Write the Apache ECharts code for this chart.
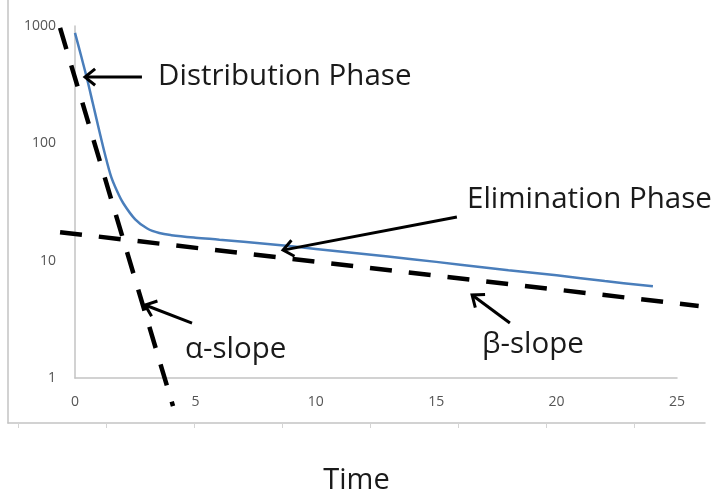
<!DOCTYPE html>
<html>
<head>
<meta charset="utf-8">
<script src="https://cdn.jsdelivr.net/npm/echarts@6/dist/echarts.min.js"></script>
<style>
  html, body { margin: 0; padding: 0; background: #fff; }
  #chart { width: 713px; height: 493px; }
</style>
</head>
<body>
<div id="chart"></div>
<script>
// Plasma concentration after an IV bolus (two-compartment model), log scale
const times = [0, 0.25, 0.5, 0.75, 1, 1.25, 1.5, 1.75, 2, 2.5, 3, 3.5, 4, 5, 6, 8, 10, 12, 14, 16, 18, 20, 22, 24];
const concentration = [875, 560, 355, 215, 130, 80, 52, 39, 31, 22.5, 18.8, 17.2, 16.5, 15.7, 15.1, 13.9, 12.6, 11.4, 10.3, 9.25, 8.3, 7.5, 6.7, 6.05];

// Back-extrapolated straight lines (in log space) of the two phases
const alphaSlope = [[-0.62, 962], [4.07, 0.577]];
const betaSlope = [[-0.62, 17.5], [25.9, 4.11]];

// Axis ticks
const xTicks = [0, 5, 10, 15, 20, 25];
const yTicks = [1, 10, 100, 1000];
const frameTicks = [0, 1, 2, 3, 4, 5, 6, 7];

// Callouts: text anchored at [time, concentration]
const calloutText = ['Distribution Phase', 'Elimination Phase', 'α-slope', 'β-slope'];
const calloutAt = [[3.45, 367], [16.28, 32.9], [4.57, 1.73], [16.9, 1.91]];
// Arrows: [tailTime, tailConc, tipTime, tipConc]
const arrows = [
  [2.78, 367, 0.415, 367],
  [15.86, 23.6, 8.64, 12.3],
  [4.86, 2.94, 2.91, 4.19],
  [18.06, 2.94, 16.49, 5.10]
];

const textFont = 'Open Sans';
const axisGray = '#c3c3c3';

const chart = echarts.init(document.getElementById('chart'), null, { renderer: 'canvas' });

// Dashed slope line drawn as a custom polyline so it can run past the plot edges
function dashedSlope(name, points) {
  return {
    name, type: 'custom', xAxisIndex: 0, yAxisIndex: 0,
    data: [points[0].concat(points[1])],
    encode: { x: [0, 2], y: [1, 3] }, silent: true, clip: false, z: 2,
    renderItem: (params, api) => {
      const a = api.coord([api.value(0), api.value(1)]);
      const b = api.coord([api.value(2), api.value(3)]);
      return {
        type: 'line',
        shape: { x1: a[0], y1: a[1], x2: b[0], y2: b[1] },
        style: { stroke: '#000', lineWidth: 4.5, lineDash: [22, 17], lineCap: 'butt' }
      };
    }
  };
}

const option = {
  animation: false,
  backgroundColor: '#ffffff',
  grid: [
    { left: 75, right: 36, top: 26, bottom: 115, outerBoundsMode: 'none', containLabel: false },
    { left: 8, right: 8, top: 0, bottom: 70, outerBoundsMode: 'none', containLabel: false }
  ],
  xAxis: [
    {
      gridIndex: 0, type: 'value', min: 0, max: 25, interval: 5,
      axisLine: { onZero: false, lineStyle: { color: axisGray, width: 1.5 } },
      axisTick: { show: false },
      splitLine: { show: false },
      axisLabel: {
        customValues: xTicks,
        margin: 17, fontSize: 14, fontFamily: textFont, color: '#555'
      }
    },
    {
      gridIndex: 1, type: 'value', min: -0.114, max: 7.807,
      axisLine: { onZero: false, lineStyle: { color: axisGray, width: 1.5 } },
      axisTick: { show: true, customValues: frameTicks, length: 5, lineStyle: { color: '#d4d4d4' } },
      axisLabel: { show: false },
      splitLine: { show: false },
      name: 'Time', nameLocation: 'middle', nameGap: 43,
      nameTextStyle: { fontSize: 29, fontFamily: textFont, color: '#1a1a1a' }
    }
  ],
  yAxis: [
    {
      gridIndex: 0, type: 'log', logBase: 10, min: 1, max: 1000,
      axisLine: { show: true, onZero: false, lineStyle: { color: axisGray, width: 1.5 } },
      axisTick: { show: false },
      minorTick: { show: false },
      splitLine: { show: false },
      axisLabel: {
        customValues: yTicks,
        margin: 19, fontSize: 14, fontFamily: textFont, color: '#555',
        formatter: v => String(Math.round(v))
      }
    },
    {
      gridIndex: 1, type: 'value', min: 0, max: 1,
      axisLine: { show: true, onZero: false, lineStyle: { color: axisGray, width: 1.5 } },
      axisTick: { show: false },
      axisLabel: { show: false },
      splitLine: { show: false }
    }
  ],
  series: [
    dashedSlope('alpha', alphaSlope),
    dashedSlope('beta', betaSlope),
    {
      name: 'concentration', type: 'line', xAxisIndex: 0, yAxisIndex: 0,
      data: times.map((t, i) => [t, concentration[i]]),
      smooth: 0.35, symbol: 'none', silent: true, z: 3,
      lineStyle: { color: '#4a7ebb', width: 2.5 }
    },
    {
      name: 'arrows', type: 'custom', xAxisIndex: 0, yAxisIndex: 0,
      data: arrows, encode: { x: [0, 2], y: [1, 3] }, silent: true, z: 5,
      renderItem: (params, api) => {
        const a = api.coord([api.value(0), api.value(1)]);
        const b = api.coord([api.value(2), api.value(3)]);
        const ang = Math.atan2(b[1] - a[1], b[0] - a[0]);
        const len = 13, spread = 0.68;
        const h1 = [b[0] - len * Math.cos(ang - spread), b[1] - len * Math.sin(ang - spread)];
        const h2 = [b[0] - len * Math.cos(ang + spread), b[1] - len * Math.sin(ang + spread)];
        const style = { stroke: '#000', lineWidth: 3, fill: null };
        return {
          type: 'group',
          children: [
            { type: 'line', shape: { x1: a[0], y1: a[1], x2: b[0], y2: b[1] }, style },
            { type: 'polyline', shape: { points: [h1, b, h2] }, style }
          ]
        };
      }
    },
    {
      name: 'callouts', type: 'custom', xAxisIndex: 0, yAxisIndex: 0,
      data: calloutAt.map((p, i) => [p[0], p[1], i]), encode: { x: 0, y: 1 }, silent: true, z: 6,
      renderItem: (params, api) => {
        const p = api.coord([api.value(0), api.value(1)]);
        return {
          type: 'text', x: p[0], y: p[1],
          style: {
            text: calloutText[api.value(2)],
            fontSize: 29.5, fontFamily: textFont, fill: '#1a1a1a',
            align: 'left', verticalAlign: 'middle'
          }
        };
      }
    }
  ]
};

chart.setOption(option);
</script>
</body>
</html>
